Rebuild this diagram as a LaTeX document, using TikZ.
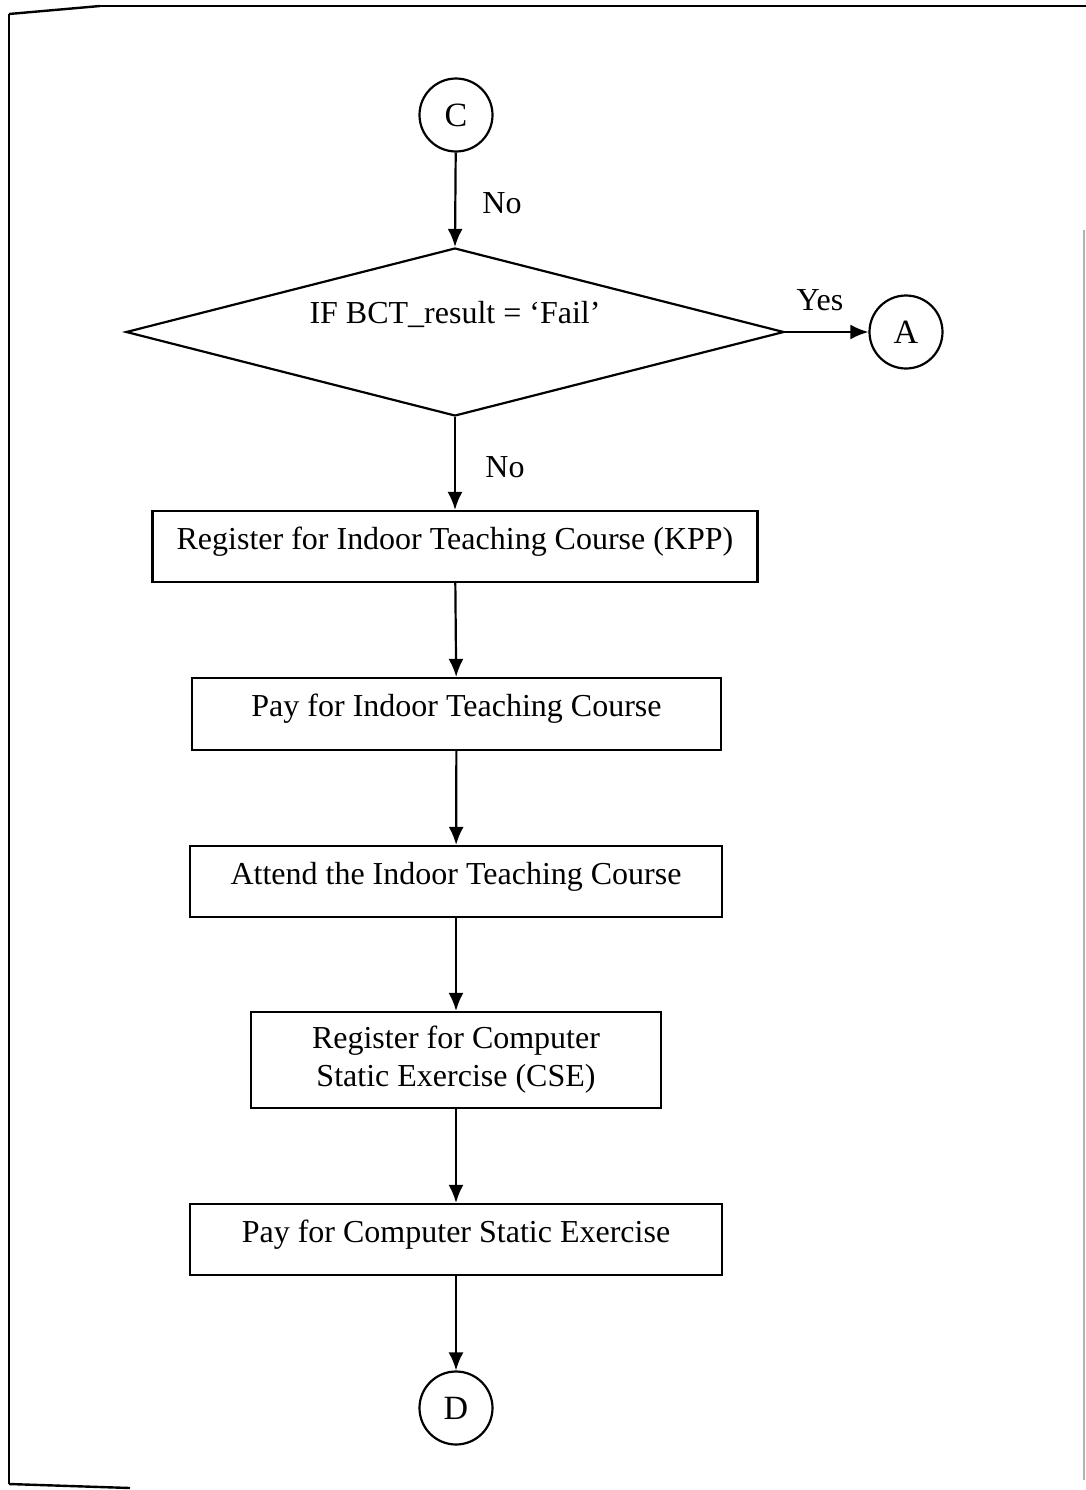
\documentclass[tikz,border=0pt]{standalone}
\usepackage{fontspec}
\setmainfont{Liberation Serif}
\usetikzlibrary{arrows.meta,shapes.geometric}
\begin{document}
\begin{tikzpicture}[x=0.5pt,y=-0.5pt,
  every node/.style={font=\fontsize{16}{19}\selectfont},
  conn/.style={circle,draw,line width=1.1pt,minimum size=36.5pt,inner sep=0pt,font=\fontsize{17}{20}\selectfont},
  stepbox/.style={rectangle,draw,line width=1.1pt,inner sep=0pt,text height=0.7em,text depth=0.44em},
  twobox/.style={rectangle,draw,line width=1.1pt,inner sep=0pt,align=center},
  flow/.style={line width=1.1pt,-{Latex[length=9pt,width=7.5pt]}},
  lbl/.style={inner sep=0pt}]
\useasboundingbox (0,0) rectangle (1086,1490);
% frame
\draw[line width=1.2pt] (100,6) -- (1086,6);
\draw[line width=1.2pt] (9,14) -- (100,6);
\draw[line width=1.1pt] (9,14) -- (9,1484);
\draw[line width=1.2pt] (9,1484) -- (130,1488);
\draw[line width=0.6pt,gray!60] (1084,230) -- (1084,1480);
% nodes
\node[conn] (C) at (456,115) {C};
\node[diamond,draw,line width=1.1pt,inner sep=0pt,minimum width=329pt,minimum height=84pt] (dec) at (455,332) {};
\node[lbl] (dectxt) at (455,314) {IF BCT\_result = ‘Fail’};
\node[conn] (A) at (906,332) {A};
\node[stepbox,minimum width=302.5pt,minimum height=35.5pt] (b1) at (455,546.5) {Register for Indoor Teaching Course (KPP)};
\node[stepbox,minimum width=264.5pt,minimum height=36pt] (b2) at (456.5,714) {Pay for Indoor Teaching Course};
\node[stepbox,minimum width=266pt,minimum height=35.5pt] (b3) at (456,881.5) {Attend the Indoor Teaching Course};
\node[twobox,minimum width=205pt,minimum height=48pt] (b4) at (456,1060) {Register for Computer\\Static Exercise (CSE)};
\node[stepbox,minimum width=266pt,minimum height=35.5pt] (b5) at (456,1239.5) {Pay for Computer Static Exercise};
\node[conn] (D) at (456,1408) {D};
% connectors
\draw[flow] (C) -- (dec.north);
\draw[flow] (dec.east) -- (A);
\draw[flow] (dec.south) -- (b1);
\draw[flow] (b1) -- (b2);
\draw[flow] (b2) -- (b3);
\draw[flow] (b3) -- (b4);
\draw[flow] (b4) -- (b5);
\draw[flow] (b5) -- (D);
% labels
\node[lbl] (no1) at (502,203) {No};
\node[lbl] (yes) at (820,300) {Yes};
\node[lbl] (no2) at (505,467) {No};
\end{tikzpicture}
\end{document}
